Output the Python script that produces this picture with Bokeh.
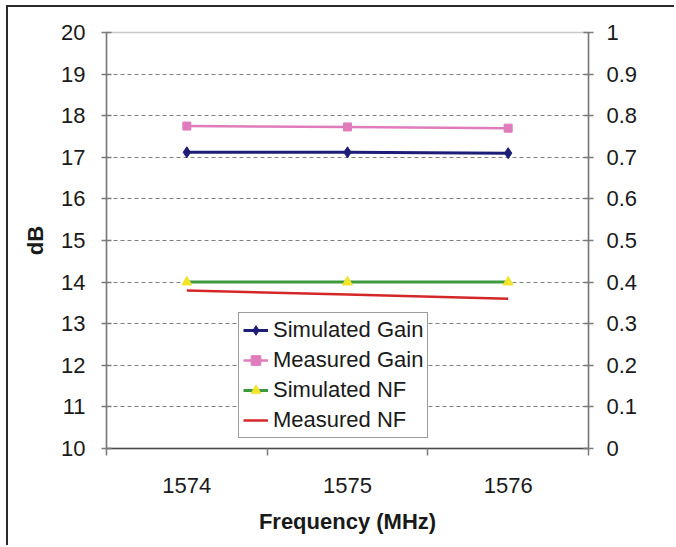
from bokeh.plotting import figure
from bokeh.models import Range1d, LinearAxis, FixedTicker, NumeralTickFormatter, Legend, LegendItem
from bokeh.embed import file_html
from bokeh.resources import INLINE

# ---- data ----
freq = [1574, 1575, 1576]
x_tick_labels = ["1574", "1575", "1576"]
sim_gain = [17.12, 17.12, 17.10]
meas_gain = [17.75, 17.73, 17.70]
sim_nf = [0.40, 0.40, 0.40]
meas_nf = [0.38, 0.37, 0.36]
left_ticks = [10, 11, 12, 13, 14, 15, 16, 17, 18, 19, 20]
right_ticks = [0, 0.1, 0.2, 0.3, 0.4, 0.5, 0.6, 0.7, 0.8, 0.9, 1.0]
series_names = ["Simulated Gain", "Measured Gain", "Simulated NF", "Measured NF"]

FONT = "Liberation Sans"
TXT = "#1a1a1a"
AX = "#7a7a7a"

p = figure(width=668, height=540, output_backend="svg", toolbar_location=None,
           x_range=Range1d(1573.5, 1576.5), y_range=Range1d(10, 20),
           y_axis_location=None, x_axis_location=None,
           min_border_left=98, min_border_right=88, min_border_top=25, min_border_bottom=99,
           background_fill_color="white", border_fill_color="white",
           styles={"margin-left": "6px", "margin-top": "5px",
                   "border-left": "2px solid #2a2a2a", "border-top": "2px solid #2a2a2a"})
p.extra_y_ranges = {"nf": Range1d(0, 1)}

p.outline_line_color = "#c8c8c8"
p.outline_line_width = 1.5
p.xgrid.visible = False
p.ygrid.ticker = FixedTicker(ticks=left_ticks[1:-1])
p.ygrid.grid_line_color = "#808080"
p.ygrid.grid_line_dash = "4 3"
p.ygrid.grid_line_width = 1

# left axis
ly = LinearAxis(ticker=FixedTicker(ticks=left_ticks), axis_label="dB")
# right axis
ry = LinearAxis(y_range_name="nf", ticker=FixedTicker(ticks=right_ticks),
                formatter=NumeralTickFormatter(format="0.[0]"))
# bottom axis
bx = LinearAxis(ticker=FixedTicker(ticks=freq, minor_ticks=[1573.5, 1574.5, 1575.5, 1576.5]),
                axis_label="Frequency (MHz)",
                major_label_overrides={f: s for f, s in zip(freq, x_tick_labels)})

for ax in (ly, ry, bx):
    ax.axis_line_color = AX
    ax.axis_line_width = 1.5
    ax.major_tick_line_color = AX
    ax.major_tick_line_width = 1.5
    ax.major_label_text_font = FONT
    ax.major_label_text_font_size = "22px"
    ax.major_label_text_color = TXT
    ax.axis_label_text_font = FONT
    ax.axis_label_text_font_size = "22px"
    ax.axis_label_text_font_style = "bold"
    ax.axis_label_text_color = TXT

for ax in (ly, ry):
    ax.major_tick_in = 5
    ax.major_tick_out = 5
    ax.minor_tick_line_color = None
ly.major_label_standoff = 16
ly.axis_label_standoff = 10
ry.major_label_standoff = 13

bx.major_tick_in = 0
bx.major_tick_out = 0
bx.minor_tick_in = 0
bx.minor_tick_out = 7
bx.minor_tick_line_color = AX
bx.minor_tick_line_width = 1.5
bx.axis_line_color = "#4a4a4a"
bx.major_label_standoff = 22
bx.axis_label_standoff = 13

p.add_layout(ly, "left")
p.add_layout(ry, "right")
p.add_layout(bx, "below")

# series
r1l = p.line(freq, sim_gain, line_color="#1e1e78", line_width=3)
r1m = p.scatter(freq, sim_gain, marker="diamond", size=11, fill_color="#1e1e78", line_color="#1e1e78")
r2l = p.line(freq, meas_gain, line_color="#e07cbc", line_width=2.5)
r2m = p.scatter(freq, meas_gain, marker="square", size=8, fill_color="#e07cbc", line_color="#e07cbc")
r3l = p.line(freq, sim_nf, y_range_name="nf", line_color="#3f9a3f", line_width=3)
r3m = p.scatter(freq, sim_nf, y_range_name="nf", marker="triangle", size=10,
                fill_color="#f2e42a", line_color="#f2e42a")
r4l = p.line(freq, meas_nf, y_range_name="nf", line_color="#d42828", line_width=2.5)

legend = Legend(items=[
    LegendItem(label=series_names[0], renderers=[r1l, r1m]),
    LegendItem(label=series_names[1], renderers=[r2l, r2m]),
    LegendItem(label=series_names[2], renderers=[r3l, r3m]),
    LegendItem(label=series_names[3], renderers=[r4l]),
], location=(132, 10))
legend.label_text_font = FONT
legend.label_text_font_size = "22px"
legend.label_text_color = TXT
legend.glyph_width = 25
legend.glyph_height = 24
legend.label_height = 24
legend.label_standoff = 5
legend.spacing = 4
legend.padding = 4
legend.margin = 0
legend.border_line_color = "#3a3a3a"
legend.border_line_width = 1
legend.background_fill_color = "white"
legend.background_fill_alpha = 1
p.add_layout(legend, "center")

open("out.html", "w").write(file_html(p, INLINE))
